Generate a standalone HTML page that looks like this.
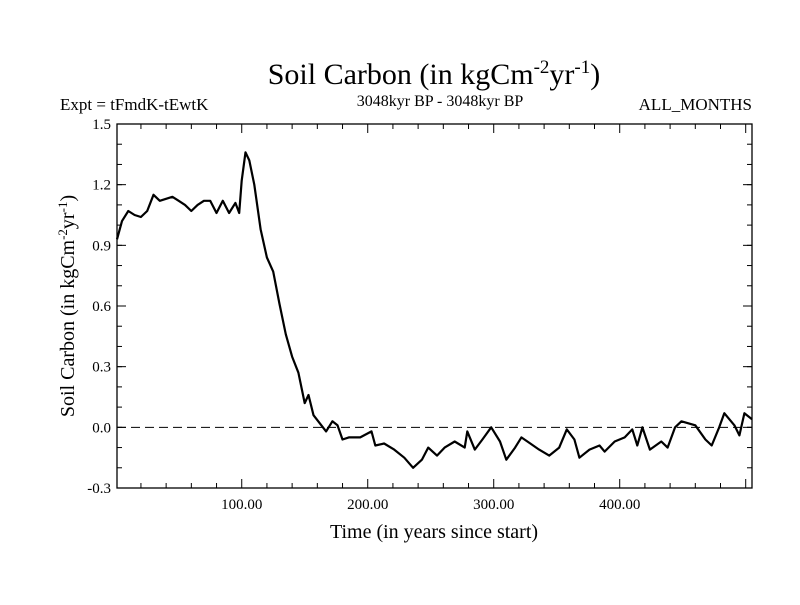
<!DOCTYPE html>
<html><head><meta charset="utf-8"><style>
body{margin:0;background:#fff;}
svg text{font-family:"Liberation Serif",serif;fill:#000;}
</style></head><body>
<svg id="chart" width="800" height="600" xmlns="http://www.w3.org/2000/svg">
<rect width="800" height="600" fill="#fff"/>
<text x="434" y="84" font-size="30" text-anchor="middle">Soil Carbon (in kgCm<tspan dy="-11" font-size="19">-2</tspan><tspan dy="11">yr</tspan><tspan dy="-11" font-size="19">-1</tspan><tspan dy="11">)</tspan></text>
<text x="60" y="110" font-size="17">Expt = tFmdK-tEwtK</text>
<text x="440" y="106" font-size="16" text-anchor="middle">3048kyr BP - 3048kyr BP</text>
<text x="752" y="110" font-size="17" text-anchor="end">ALL_MONTHS</text>
<g id="axes"></g>
<text x="434" y="538" font-size="20" text-anchor="middle">Time (in years since start)</text>
<text transform="translate(74,306) rotate(-90)" font-size="20" text-anchor="middle">Soil Carbon (in kgCm<tspan dy="-7" font-size="13">-2</tspan><tspan dy="7">yr</tspan><tspan dy="-7" font-size="13">-1</tspan><tspan dy="7">)</tspan></text>
</svg>
<script>
const years=[1,5,10,15,20,25,30,35,40,45,50,55,60,65,70,75,80,85,90,95,98,100,103,106,110,115,120,125,130,135,140,145,150,153,157,162,167,172,176,180,185,194,203,206,213,221,229,236,243,248,255,261,269,277,279,285,291,298,305,310,317,322,329,336,344,352,358,364,368,376,384,388,396,404,410,414,418,424,433,438,444,449,460,468,473,479,483,491,495,499,505];
const soilCarbon=[0.93,1.02,1.07,1.05,1.04,1.07,1.15,1.12,1.13,1.14,1.12,1.10,1.07,1.10,1.12,1.12,1.06,1.12,1.06,1.11,1.06,1.22,1.36,1.32,1.20,0.98,0.84,0.77,0.61,0.46,0.35,0.27,0.12,0.16,0.06,0.02,-0.02,0.03,0.01,-0.06,-0.05,-0.05,-0.02,-0.09,-0.08,-0.11,-0.15,-0.20,-0.16,-0.10,-0.14,-0.10,-0.07,-0.10,-0.02,-0.11,-0.06,0.00,-0.07,-0.16,-0.10,-0.05,-0.08,-0.11,-0.14,-0.10,-0.01,-0.06,-0.15,-0.11,-0.09,-0.12,-0.07,-0.05,-0.01,-0.09,0.00,-0.11,-0.07,-0.10,0.00,0.03,0.01,-0.06,-0.09,0.00,0.07,0.01,-0.04,0.07,0.04];
const yTicks=[-0.3,0.0,0.3,0.6,0.9,1.2,1.5];
const yTickLabels=["-0.3","0.0","0.3","0.6","0.9","1.2","1.5"];
const xTicks=[100,200,300,400];
const xTickLabels=["100.00","200.00","300.00","400.00"];
const X0=117,X1=752,Y0=124,Y1=488,TMIN=1,TMAX=505,VMIN=-0.3,VMAX=1.5;
const sx=t=>X0+(t-TMIN)/(TMAX-TMIN)*(X1-X0);
const sy=v=>Y1-(v-VMIN)/(VMAX-VMIN)*(Y1-Y0);
const NS="http://www.w3.org/2000/svg";
const g=document.getElementById('axes');
function mk(tag,attrs,parent){const e=document.createElementNS(NS,tag);for(const k in attrs)e.setAttribute(k,attrs[k]);(parent||g).appendChild(e);return e;}
// zero line
const z=mk('line',{x1:X0,x2:X1,y1:sy(0),y2:sy(0),stroke:'#000','stroke-width':1,'stroke-dasharray':'9,5'});


// minor y ticks
for(let v=-0.2;v<1.5;v+=0.1){const yy=sy(v);
 const a=mk('line',{x1:X0,x2:X0+5,y1:yy,y2:yy,stroke:'#000'});
 
 
 const b=mk('line',{x1:X1,x2:X1-5,y1:yy,y2:yy,stroke:'#000'});
 
 }
yTicks.forEach((v,i)=>{const yy=sy(v);
 const a=mk('line',{x1:X0,x2:X0+9,y1:yy,y2:yy,stroke:'#000'});
 
 
 const b=mk('line',{x1:X1,x2:X1-9,y1:yy,y2:yy,stroke:'#000'});
 
 
 const t=mk('text',{x:X0-6,y:yy+5,'font-size':15,'text-anchor':'end'});t.textContent=yTickLabels[i];
 
 });
for(let tt=20;tt<TMAX;tt+=20){const xx=sx(tt);const major=tt%100===0;const L=major?9:5;
 const a=mk('line',{x1:xx,x2:xx,y1:Y1,y2:Y1-L,stroke:'#000'});
 
 
 const b=mk('line',{x1:xx,x2:xx,y1:Y0,y2:Y0+L,stroke:'#000'});
 
 }
xTicks.forEach((tt,i)=>{const t=mk('text',{x:sx(tt),y:Y1+21,'font-size':15,'text-anchor':'middle'});t.textContent=xTickLabels[i];
 
 });
const fr=mk('rect',{x:X0,y:Y0,width:X1-X0,height:Y1-Y0,fill:'none',stroke:'#000','stroke-width':1.3});


const p=mk('path',{d:years.map((t,i)=>(i?'L':'M')+sx(t).toFixed(1)+','+sy(soilCarbon[i]).toFixed(1)).join(''),fill:'none',stroke:'#000','stroke-width':2.2,'stroke-linejoin':'round'});


</script>
</body></html>
